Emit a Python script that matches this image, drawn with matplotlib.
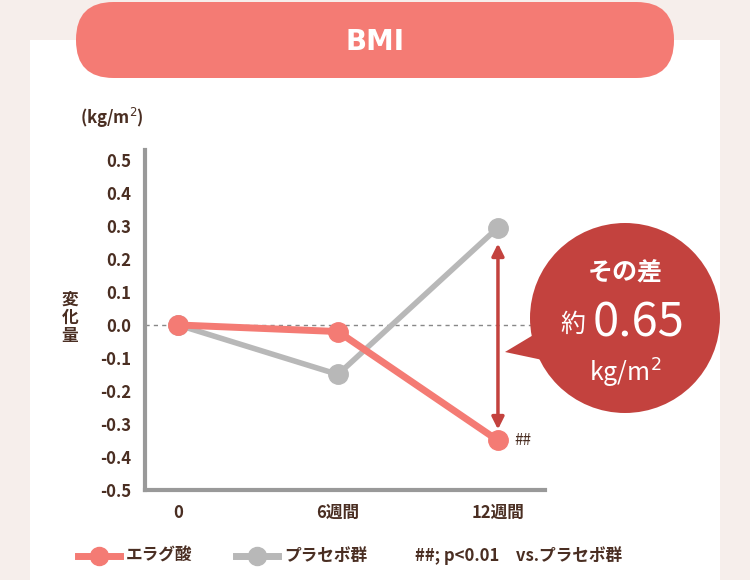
import matplotlib.pyplot as plt
from matplotlib.patches import FancyBboxPatch, Ellipse, Polygon, Rectangle
from matplotlib.lines import Line2D

plt.rcParams['font.family'] = ['Noto Sans CJK JP', 'DejaVu Sans']

weeks = ["0", "6週間", "12週間"]
ellagic = [0.0, -0.02, -0.35]
placebo = [0.0, -0.15, 0.295]
yticks = [0.5, 0.4, 0.3, 0.2, 0.1, 0.0, -0.1, -0.2, -0.3, -0.4, -0.5]

brown = "#4a2e22"
red = "#f47b74"
dark = "#c3423e"
gray = "#b8b8b8"

fig = plt.figure(figsize=(7.5, 5.8), dpi=100)
fig.patch.set_facecolor("#f6eeeb")
W, H = 750, 580

def px(x, y):
    return x / W, 1 - y / H

# white panel
fig.patches.append(Rectangle(px(30, 580), 690 / W, 540 / H, transform=fig.transFigure,
                             facecolor="white", edgecolor="none", zorder=-1))
# title pill
fig.patches.append(FancyBboxPatch(px(76, 78), 598 / W, 76 / H, transform=fig.transFigure,
                                  boxstyle="round,pad=0,rounding_size=0.05",
                                  mutation_aspect=W / H,
                                  facecolor=red, edgecolor="none", zorder=1))
fig.text(*px(375, 42), "BMI", color="white", fontsize=20, fontweight="bold",
         ha="center", va="center", family="DejaVu Sans")

ax = fig.add_axes([145 / W, 1 - 490 / H, 400 / W, 340 / H])
ax.set_zorder(2)
ax.set_facecolor("none")
x = range(len(weeks))
ax.axhline(0, color="#888888", lw=1, ls=(0, (3, 3)), zorder=1)
ax.plot(x, placebo, color=gray, lw=4, marker="o", ms=14, zorder=2)
ax.plot(x, ellagic, color=red, lw=5, marker="o", ms=14, zorder=3)
ax.annotate("", xy=(2, -0.325), xytext=(2, 0.255),
            arrowprops=dict(arrowstyle="<|-|>", color=dark, lw=2.5, mutation_scale=18))
ax.text(2.1, -0.35, "##", color=brown, fontsize=11, va="center")
ax.set_xlim(-0.206, 2.294)
ax.set_ylim(-0.5, 0.53)
ax.set_xticks(list(x))
ax.set_xticklabels(weeks)
ax.set_yticks(yticks)
ax.set_yticklabels([f"{v:.1f}" for v in yticks])
for s in ["top", "right"]:
    ax.spines[s].set_visible(False)
for s in ["left", "bottom"]:
    ax.spines[s].set_color("#999999")
    ax.spines[s].set_linewidth(3)
ax.tick_params(length=0, colors=brown, labelsize=12, pad=10)
for t in ax.get_xticklabels() + ax.get_yticklabels():
    t.set_fontweight("bold")

fig.text(*px(112, 118), "(kg/m$^2$)", color=brown, fontsize=12, ha="center", va="center",
         fontweight="bold")
fig.text(*px(70, 318), "変\n化\n量", color=brown, fontsize=12, ha="center", va="center",
         fontweight="bold", linespacing=1.0)

# bubble
cx, cy, r = 625, 318, 95
fig.patches.append(Ellipse(px(cx, cy), 2 * r / W, 2 * r / H, transform=fig.transFigure,
                           facecolor=dark, edgecolor="none", zorder=4))
fig.patches.append(Polygon([px(505, 352), px(545, 328), px(552, 362)], closed=True,
                           transform=fig.transFigure, facecolor=dark, edgecolor="none", zorder=4))
fig.text(*px(cx, 272), "その差", color="white", fontsize=18, fontweight="bold",
         ha="center", va="center", zorder=5)
fig.text(*px(cx - 52, 325), "約", color="white", fontsize=18, ha="center", va="center", zorder=5)
fig.text(*px(cx + 14, 323), "0.65", color="white", fontsize=34, ha="center", va="center", zorder=5)
fig.text(*px(cx, 373), "kg/m$^2$", color="white", fontsize=18, ha="center", va="center", zorder=5)

# legend
for x0, col, lab in [(78, red, "エラグ酸"), (236, gray, "プラセボ群")]:
    fig.lines.append(Line2D([x0 / W, (x0 + 42) / W], [1 - 556 / H] * 2, transform=fig.transFigure,
                            color=col, lw=5))
    fig.lines.append(Line2D([(x0 + 21) / W], [1 - 556 / H], transform=fig.transFigure,
                            color=col, marker="o", ms=13))
    fig.text(*px(x0 + 48, 556), lab, color=brown, fontsize=12, fontweight="bold", va="center")
fig.text(*px(415, 556), "##; p<0.01　vs.プラセボ群", color=brown, fontsize=12,
         fontweight="bold", va="center")

fig.savefig("out.png", dpi=100, facecolor=fig.get_facecolor())
